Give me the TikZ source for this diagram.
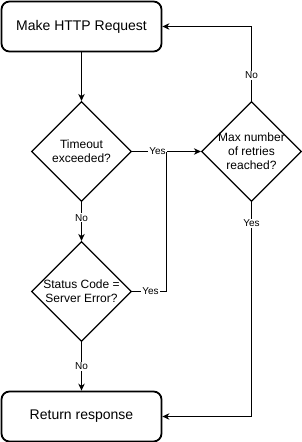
\documentclass[tikz,border=0pt]{standalone}
\usepackage{fontspec}
\setmainfont{Liberation Sans}
\usetikzlibrary{arrows.meta, shapes.geometric, positioning}

\begin{document}
\begin{tikzpicture}[
      x=1pt, y=-1pt,
      stepbox/.style={draw, rounded corners=8pt, line width=1.8pt,
        minimum width=160pt, minimum height=50pt, inner sep=0pt, font=\fontsize{14}{16}\selectfont},
      decision/.style={draw, diamond, line width=1.2pt, minimum width=100pt,
        minimum height=100pt, inner sep=0pt},
      dtext/.style={font=\fontsize{12}{14}\selectfont, align=center},
      flow/.style={line width=1pt, -{Stealth[length=7pt, width=6.5pt, inset=2.2pt]}},
      joint_line/.style={line width=1pt},
      edge_lbl/.style={font=\fontsize{10}{12}\selectfont, fill=white, inner sep=1pt}
  ]

  % 0. Cornice
  \useasboundingbox (0,0) rectangle (302,442);

  % 1. Blocchi
  \node[stepbox] (request) at (81.5,26.5) {Make HTTP Request};
  \node[decision, label={[dtext]center:Timeout\\exceeded?}] (timeout) at (81.5,151.5) {};
  \node[decision, label={[dtext]center:Status Code =\\Server Error?}] (status) at (81.5,291.5) {};
  \node[decision, label={[dtext]center:Max number\\of retries\\reached?}] (retries) at (251.5,151.5) {};
  \node[stepbox] (response) at (81.5,416.5) {Return response};

  % 2. Punto di giunzione
  \coordinate (join) at (166,151.5);

  % 3. Connettori verticali
  \draw[flow] (request) -- (timeout);
  \draw[flow] (timeout) -- node[edge_lbl, pos=0.4] {No} (status);
  \draw[flow] (status) -- node[edge_lbl, pos=0.5] {No} (response);

  % 4. Connettori verso i tentativi
  \draw[flow] (timeout.east) -- node[edge_lbl, pos=0.37] {Yes} (retries.west);
  \draw[joint_line] (status.east) -| node[edge_lbl, pos=0.27] {Yes} (join);

  % 5. Ritorni
  \draw[flow] (retries.north) |- node[edge_lbl, pos=0.17] {No} (request.east);
  \draw[flow] (retries.south) |- node[edge_lbl, pos=0.05] {Yes} (response.east);

\end{tikzpicture}
\end{document}
